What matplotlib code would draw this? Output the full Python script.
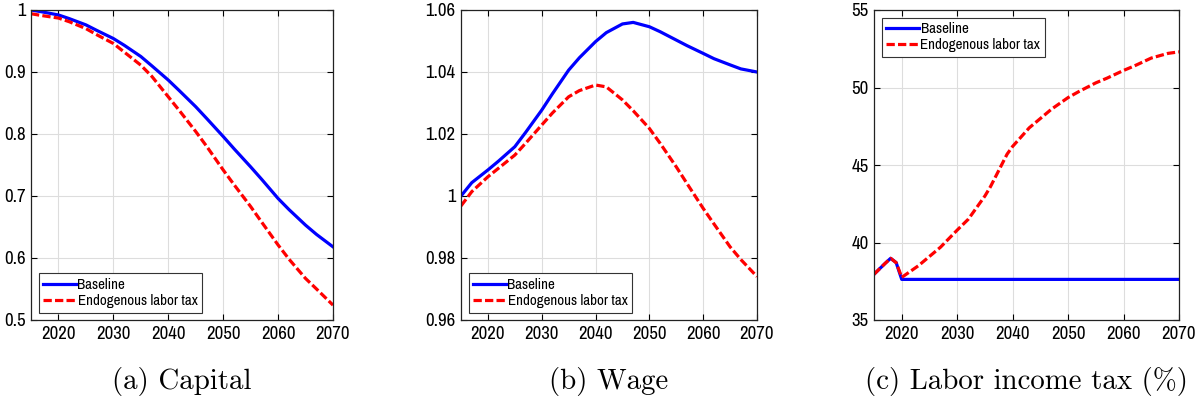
import matplotlib
matplotlib.use("Agg")
import matplotlib.pyplot as plt
from matplotlib import font_manager

# ---- data -------------------------------------------------------------
cap_years = [2015, 2017, 2020, 2022, 2025, 2027, 2030, 2032, 2035, 2037, 2040, 2042, 2045,
             2047, 2050, 2052, 2055, 2057, 2060, 2062, 2065, 2067, 2070]
cap_base = [1.000, 0.997, 0.992, 0.986, 0.976, 0.967, 0.954, 0.943, 0.925, 0.910, 0.887, 0.870,
            0.844, 0.825, 0.796, 0.776, 0.747, 0.727, 0.696, 0.678, 0.653, 0.638, 0.618]
cap_endo = [0.994, 0.991, 0.987, 0.981, 0.970, 0.960, 0.946, 0.932, 0.911, 0.893, 0.860, 0.838,
            0.804, 0.780, 0.742, 0.718, 0.683, 0.658, 0.621, 0.598, 0.567, 0.550, 0.524]

wage_years = [2015, 2017, 2020, 2022, 2025, 2027, 2030, 2032, 2035, 2037, 2040, 2042, 2045,
              2047, 2050, 2052, 2055, 2057, 2060, 2062, 2065, 2067, 2070]
wage_base = [1.0000, 1.0043, 1.0084, 1.0113, 1.0159, 1.0205, 1.0277, 1.0330, 1.0406, 1.0446,
             1.0498, 1.0527, 1.0555, 1.0560, 1.0546, 1.0530, 1.0503, 1.0485, 1.0460, 1.0443,
             1.0423, 1.0410, 1.0400]
wage_endo = [0.9968, 1.0014, 1.0062, 1.0090, 1.0132, 1.0170, 1.0229, 1.0268, 1.0320, 1.0340,
             1.0358, 1.0352, 1.0310, 1.0275, 1.0218, 1.0170, 1.0094, 1.0040, 0.9960, 0.9910,
             0.9836, 0.9795, 0.9740]

tax_base_years = [2015, 2016, 2017, 2018, 2019, 2020, 2070]
tax_base = [37.95, 38.30, 38.65, 38.98, 38.70, 37.62, 37.62]
tax_endo_years = [2015, 2016, 2017, 2018, 2019, 2020, 2021, 2023, 2025, 2027, 2030, 2032, 2033,
                  2035, 2036, 2037, 2038, 2039, 2040, 2042, 2043, 2045, 2047, 2050, 2052, 2055,
                  2057, 2060, 2062, 2065, 2066, 2068, 2070]
tax_endo = [37.95, 38.30, 38.65, 38.98, 38.70, 37.75, 38.00, 38.50, 39.10, 39.70, 40.80, 41.50,
            42.00, 43.00, 43.60, 44.30, 45.00, 45.70, 46.20, 47.00, 47.40, 48.00, 48.60, 49.35,
            49.75, 50.30, 50.60, 51.10, 51.40, 51.90, 52.00, 52.20, 52.30]

x_ticks = [2020, 2030, 2040, 2050, 2060, 2070]
cap_yticks = [0.5, 0.6, 0.7, 0.8, 0.9, 1.0]
cap_ylabels = ["0.5", "0.6", "0.7", "0.8", "0.9", "1"]
wage_yticks = [0.96, 0.98, 1.00, 1.02, 1.04, 1.06]
wage_ylabels = ["0.96", "0.98", "1", "1.02", "1.04", "1.06"]
tax_yticks = [35, 40, 45, 50, 55]
tax_ylabels = ["35", "40", "45", "50", "55"]

series_names = ["Baseline", "Endogenous labor tax"]
captions = ["(a) Capital", "(b) Wage", "(c) Labor income tax (%)"]

# ---- style --------------------------------------------------------------
available = {f.name for f in font_manager.fontManager.ttflist}
narrow = [n for n in ("Archivo Narrow", "Roboto Condensed", "Barlow Semi Condensed")
          if n in available]
plt.rcParams["font.family"] = narrow[:1] + ["DejaVu Sans"]

BLUE = "#0000ff"
RED = "#ff0000"
LW = 2.3

W, H = 1203, 401
fig = plt.figure(figsize=(W / 100, H / 100), dpi=100)
positions = [
    [31 / W, 81 / H, 302 / W, 310 / H],
    [461 / W, 81 / H, 296 / W, 310 / H],
    [874 / W, 81 / H, 305 / W, 310 / H],
]
axes = [fig.add_axes(p) for p in positions]


def style_axis(ax, yticks, ylabels, ylim):
    ax.set_xlim(2015, 2070)
    ax.set_ylim(*ylim)
    ax.set_xticks(x_ticks)
    ax.set_xticklabels([str(t) for t in x_ticks])
    ax.set_yticks(yticks)
    ax.set_yticklabels(ylabels)
    ax.grid(True, color="#dddddd", linewidth=0.8)
    ax.set_axisbelow(True)
    ax.tick_params(direction="in", top=True, right=True, length=4, width=0.8,
                   labelsize=13.5, colors="black")
    ax.tick_params(axis="x", pad=4)
    ax.tick_params(axis="y", pad=4)
    for sp in ax.spines.values():
        sp.set_linewidth(0.9)
        sp.set_color("#222222")


def add_legend(ax, loc):
    leg = ax.legend(loc=loc, fontsize=10.8, frameon=True, fancybox=False,
                    edgecolor="#333333", framealpha=1, handlelength=2.2,
                    handletextpad=0.1, borderpad=0.3, labelspacing=0.15,
                    borderaxespad=0.5)
    leg.get_frame().set_linewidth(0.8)


dash = (0, (2.6, 1.0))

ax = axes[0]
ax.plot(cap_years, cap_base, color=BLUE, lw=LW, label=series_names[0])
ax.plot(cap_years, cap_endo, color=RED, lw=LW, linestyle=dash, label=series_names[1])
style_axis(ax, cap_yticks, cap_ylabels, (0.5, 1.0))
add_legend(ax, "lower left")

ax = axes[1]
ax.plot(wage_years, wage_base, color=BLUE, lw=LW, label=series_names[0])
ax.plot(wage_years, wage_endo, color=RED, lw=LW, linestyle=dash, label=series_names[1])
style_axis(ax, wage_yticks, wage_ylabels, (0.96, 1.06))
add_legend(ax, "lower left")

ax = axes[2]
ax.plot(tax_base_years, tax_base, color=BLUE, lw=LW, label=series_names[0])
ax.plot(tax_endo_years, tax_endo, color=RED, lw=LW, linestyle=dash, label=series_names[1])
style_axis(ax, tax_yticks, tax_ylabels, (35, 55))
add_legend(ax, "upper left")

# sub-captions below each panel, baseline near the bottom edge
for ax, cap in zip(axes, captions):
    pos = ax.get_position()
    fig.text(pos.x0 + pos.width / 2, 1 - 389 / H, cap, ha="center", va="baseline",
             fontsize=20.8, family="cmr10")

fig.savefig("out.png", dpi=100)
